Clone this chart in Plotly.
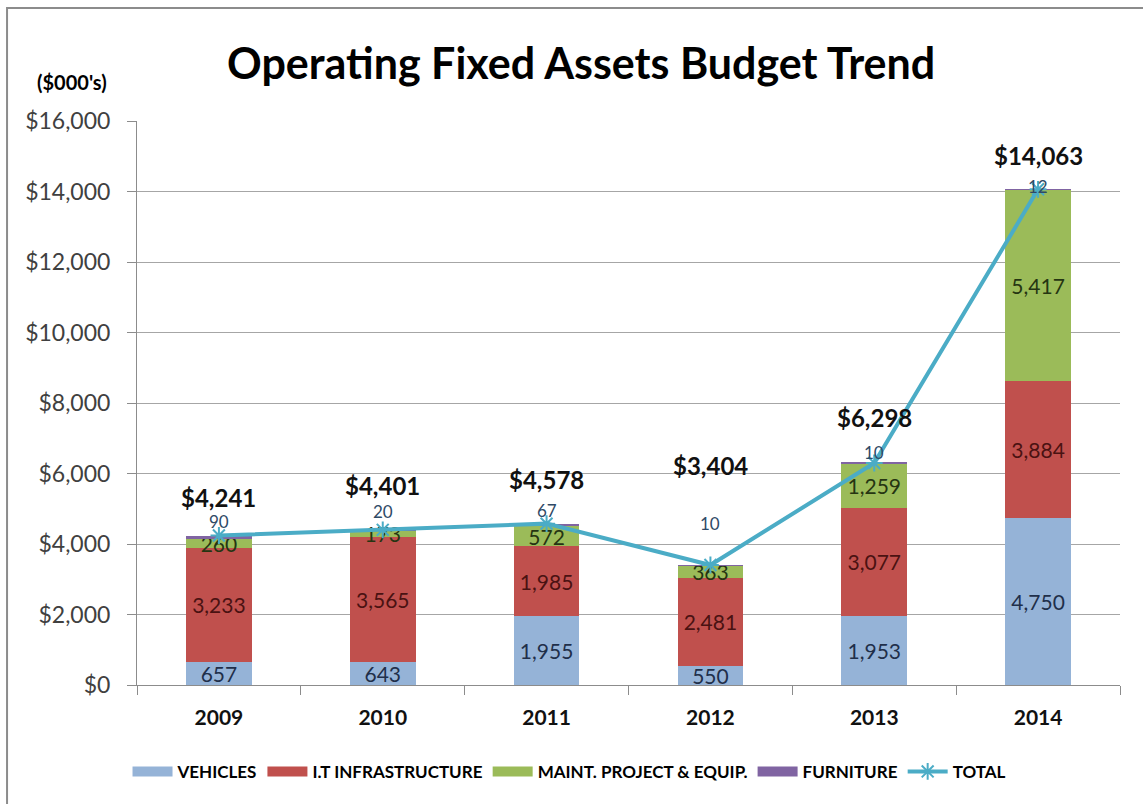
import plotly.graph_objects as go

# Budget by category, in thousands of dollars
years = ["2009", "2010", "2011", "2012", "2013", "2014"]
vehicles = [657, 643, 1955, 550, 1953, 4750]
it_infra = [3233, 3565, 1985, 2481, 3077, 3884]
maint = [260, 173, 572, 363, 1259, 5417]
furniture = [90, 20, 67, 10, 10, 12]
totals = [4241, 4401, 4578, 3404, 6298, 14063]

# label placement tweaks (pixels above the point)
total_label_shift = [38, 44, 44, 100, 46, 34]
furn_label_shift = [14, 18, 13, 42, 10, 3]

FONT = "Lato, Carlito, 'Open Sans', sans-serif"

series = [
    ("VEHICLES", vehicles, "#95B3D7", "#1f2f4a"),
    ("I.T INFRASTRUCTURE", it_infra, "#C0504D", "#4a1212"),
    ("MAINT. PROJECT & EQUIP.", maint, "#9BBB59", "#253512"),
    ("FURNITURE", furniture, "#8064A2", None),
]

fig = go.Figure()
for name, vals, color, tcolor in series:
    bar = dict(
        x=years, y=vals, name=name, showlegend=False,
        marker=dict(color=color, line=dict(width=0)),
    )
    if tcolor:
        bar.update(
            text=[f"{v:,}" for v in vals], textposition="inside",
            insidetextanchor="middle", textangle=0, constraintext="none",
            textfont=dict(family=FONT, size=21, color=tcolor),
        )
    fig.add_trace(go.Bar(**bar))

# wide legend swatches for the bar series
for name, vals, color, tcolor in series:
    fig.add_trace(go.Scatter(
        x=[None], y=[None], name=name, mode="lines",
        line=dict(color=color, width=12),
    ))

fig.add_trace(go.Scatter(
    x=years, y=totals, name="TOTAL", mode="lines+markers",
    line=dict(color="#4BACC6", width=4),
    marker=dict(symbol="asterisk-open", size=14, color="#4BACC6",
                line=dict(color="#4BACC6", width=2)),
))

annotations = []
stack_tops = [v + i + m + f for v, i, m, f in zip(vehicles, it_infra, maint, furniture)]
for idx, (top, f, sh) in enumerate(zip(stack_tops, furniture, furn_label_shift)):
    annotations.append(dict(
        x=idx, y=top, text=f"{f:,}", showarrow=False, yshift=sh,
        font=dict(family=FONT, size=17, color="#2f4a66"),
    ))
for idx, (t, sh) in enumerate(zip(totals, total_label_shift)):
    annotations.append(dict(
        x=idx, y=t, text=f"<b>${t:,}</b>", showarrow=False, yshift=sh,
        font=dict(family=FONT, size=24, color="#111111"),
    ))

annotations.append(dict(
    xref="paper", yref="paper", x=0.452, y=1.1046, xanchor="center", yanchor="middle",
    text="<b>Operating Fixed Assets Budget Trend</b>", showarrow=False,
    font=dict(family=FONT, size=43, color="#000000"),
))
annotations.append(dict(
    xref="paper", yref="paper", x=-0.066, y=1.069, xanchor="center", yanchor="middle",
    text="<b>($000's)</b>", showarrow=False,
    font=dict(family=FONT, size=20, color="#000000"),
))

fig.update_layout(
    width=1143, height=804,
    margin=dict(l=137, r=23, t=121, b=119),
    barmode="stack", bargap=0.6,
    paper_bgcolor="white", plot_bgcolor="white",
    font=dict(family=FONT, color="#404040"),
    showlegend=True,
    legend=dict(
        orientation="h", x=0.44, xanchor="center", y=-0.154, yanchor="middle",
        font=dict(family=FONT, size=17, color="#000000", weight="bold"),
        traceorder="normal", itemwidth=40,
    ),
    annotations=annotations,
    shapes=[dict(
        type="rect", xref="paper", yref="paper",
        x0=-0.1322, y0=-0.25, x1=1.05, y1=1.2004,
        line=dict(color="#8c8c8c", width=2), layer="below",
    )],
)

fig.update_xaxes(
    type="category", tickson="boundaries", ticks="outside", ticklen=9,
    tickcolor="#8c8c8c", showline=True, linecolor="#8c8c8c", linewidth=1,
    showgrid=False, ticklabelstandoff=14,
    tickfont=dict(family=FONT, size=21, color="#111111", weight="bold"),
)
fig.update_yaxes(
    range=[0, 16000], dtick=2000, tickprefix="$", tickformat=",",
    ticks="outside", ticklen=9, tickcolor="#8c8c8c",
    showline=True, linecolor="#8c8c8c", linewidth=1,
    showgrid=True, gridcolor="#a6a6a6", gridwidth=1,
    zeroline=False, ticklabelstandoff=12,
    tickfont=dict(family=FONT, size=23, color="#404040"),
)

fig.write_html("out.html")
